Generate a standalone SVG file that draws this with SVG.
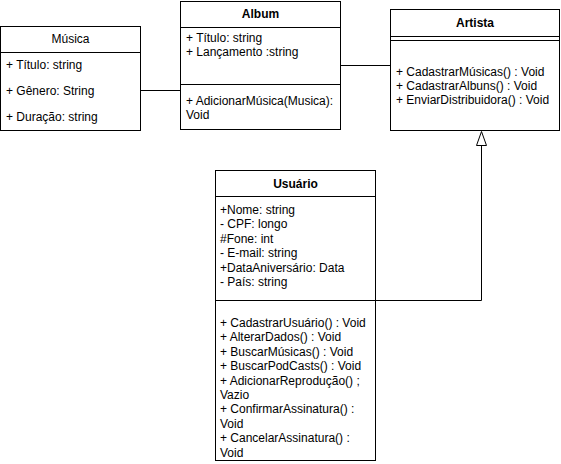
<svg xmlns="http://www.w3.org/2000/svg" width="561" height="464" viewBox="0 0 561 464">
<style>
.box{fill:#fff;stroke:#000;stroke-width:1}
.ln{stroke:#000;stroke-width:1;fill:none}
text{font-family:"Liberation Sans",Arial,Helvetica,sans-serif;font-size:12px;fill:#000}
.t{font-weight:bold;text-anchor:middle}
.tn{text-anchor:middle}
</style>
<rect width="561" height="464" fill="#fff"/>
<g id="connectors">
<path class="ln" d="M140.5 90.5 H180.5"/>
<path class="ln" d="M340.5 65.5 H390.5"/>
<path class="ln" d="M481.5 145.5 V300.5 H375.5"/>
<path d="M481.5 131.5 L486.5 145.5 L476.5 145.5 Z" fill="#fff" stroke="#000"/>
</g>
<g id="musica">
<rect class="box" x="0.5" y="26.5" width="140" height="104"/>
<path class="ln" d="M0.5 52.5 H140.5"/>
<text class="tn" x="70.5" y="43">Música</text>
<text x="6" y="69">+ Título: string</text>
<text x="6" y="95">+ Gênero: String</text>
<text x="6" y="121">+ Duração: string</text>
</g>
<g id="album">
<rect class="box" x="180.5" y="1.5" width="160" height="128"/>
<path class="ln" d="M180.5 27.5 H340.5 M180.5 84.5 H340.5"/>
<text class="t" x="260.5" y="18">Album</text>
<text x="186" y="42">+ Título: string</text>
<text x="186" y="56">+ Lançamento :string</text>
<text x="186" y="105">+ AdicionarMúsica(Musica):</text>
<text x="186" y="119">Void</text>
</g>
<g id="artista">
<rect class="box" x="390.5" y="9.5" width="169" height="121"/>
<path class="ln" d="M390.5 36.5 H559.5 M390.5 40.5 H559.5"/>
<text class="t" x="475" y="27">Artista</text>
<text x="396" y="76">+ CadastrarMúsicas() : Void</text>
<text x="396" y="90">+ CadastrarAlbuns() : Void</text>
<text x="396" y="104">+ EnviarDistribuidora() : Void</text>
</g>
<g id="usuario">
<rect class="box" x="215.5" y="170.5" width="160" height="290"/>
<path class="ln" d="M215.5 196.5 H375.5 M215.5 300.5 H375.5"/>
<text class="t" x="295.5" y="188">Usuário</text>
<text x="220" y="214">+Nome: string</text>
<text x="220" y="228.4">- CPF: longo</text>
<text x="220" y="242.8">#Fone: int</text>
<text x="220" y="257.2">- E-mail: string</text>
<text x="220" y="271.6">+DataAniversário: Data</text>
<text x="220" y="286">- País: string</text>
<text x="220" y="327">+ CadastrarUsuário() : Void</text>
<text x="220" y="341.4">+ AlterarDados() : Void</text>
<text x="220" y="355.8">+ BuscarMúsicas() : Void</text>
<text x="220" y="370.2">+ BuscarPodCasts() : Void</text>
<text x="220" y="384.6">+ AdicionarReprodução() ;</text>
<text x="220" y="399">Vazio</text>
<text x="220" y="413.4">+ ConfirmarAssinatura() :</text>
<text x="220" y="427.8">Void</text>
<text x="220" y="442.2">+ CancelarAssinatura() :</text>
<text x="220" y="456.6">Void</text>
</g>
</svg>
